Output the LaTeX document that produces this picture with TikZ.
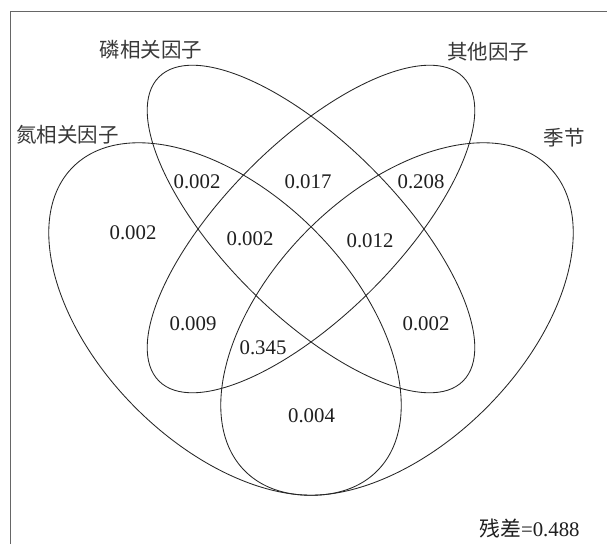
\documentclass[tikz,border=0pt]{standalone}
\usepackage{fontspec}
\setmainfont{Liberation Serif}
\newfontfamily\cjk{Noto Sans CJK SC}
\begin{document}
\begin{tikzpicture}[x=1pt,y=1pt,
  venn/.style={draw=black!85, line width=0.85pt},
  num/.style={font=\fontsize{20.8}{23}\selectfont, text=black!88, inner sep=0pt},
  lab/.style={font=\cjk\fontsize{20.5}{23}\selectfont, text=black!78, inner sep=0pt}]
\useasboundingbox (0,0) rectangle (607,-544);
\fill[white] (0,0) rectangle (607,-544);
% frame
\coordinate (fTL) at (10,-11);
\coordinate (fBL) at (10,-544);
\coordinate (fTR) at (607,-11);
\draw[black!60, line width=1pt] (fBL) -- (fTL) -- (fTR);
% ellipse centres
\coordinate (cN) at (225,-319);
\coordinate (cS) at (397,-319);
\coordinate (cM) at (311,-229);
\draw[venn, rotate around={-45:(cN)}] (cN) ellipse [x radius=215pt, y radius=126pt];
\draw[venn, rotate around={45:(cS)}] (cS) ellipse [x radius=215pt, y radius=126pt];
\draw[venn, rotate around={-45:(cM)}] (cM) ellipse [x radius=215pt, y radius=86pt];
\draw[venn, rotate around={45:(cM)}] (cM) ellipse [x radius=215pt, y radius=86pt];
% labels
\node[lab] (lP) at (151,-50) {磷相关因子};
\node[lab] (lN) at (67.5,-135) {氮相关因子};
\node[lab] (lO) at (488,-52) {其他因子};
\node[lab] (lS) at (564,-138) {季节};
% numbers
\node[num] (n1) at (197,-182) {0.002};
\node[num] (n2) at (308,-182) {0.017};
\node[num] (n3) at (421,-182) {0.208};
\node[num] (n4) at (133,-233) {0.002};
\node[num] (n5) at (250,-239) {0.002};
\node[num] (n6) at (370,-241) {0.012};
\node[num] (n7) at (193,-324) {0.009};
\node[num] (n8) at (263,-348) {0.345};
\node[num] (n9) at (426,-324) {0.002};
\node[num] (n10) at (311.5,-416) {0.004};
\node[num] (res) at (529.5,-529) {{\cjk 残差}=0.488};
\end{tikzpicture}
\end{document}
